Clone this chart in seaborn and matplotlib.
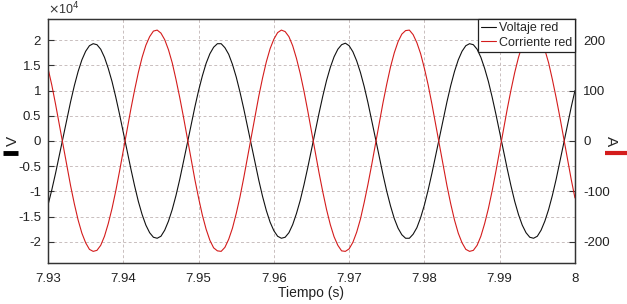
import numpy as np
import pandas as pd
import matplotlib
matplotlib.use("Agg")
import matplotlib.pyplot as plt
import seaborn as sns
from matplotlib.ticker import FuncFormatter

# Tiempo (s), sampled every 0.5 ms
tiempo = [7.930 + 0.0005 * i for i in range(141)]

# Voltaje red (x1e4 V)
voltaje = [-1.27, -0.97, -0.64, -0.29, 0.07, 0.43, 0.78, 1.10, 1.38, 1.61,
           1.78, 1.89, 1.93, 1.91, 1.82, 1.66, 1.44, 1.18, 0.87, 0.53,
           0.17, -0.19, -0.55, -0.89, -1.20, -1.46, -1.67, -1.82, -1.91, -1.93,
           -1.89, -1.77, -1.59, -1.36, -1.08, -0.76, -0.41, -0.05, 0.31, 0.67,
           1.00, 1.29, 1.54, 1.73, 1.86, 1.93, 1.93, 1.85, 1.72, 1.52,
           1.27, 0.97, 0.64, 0.29, -0.07, -0.43, -0.78, -1.10, -1.38, -1.61,
           -1.78, -1.89, -1.93, -1.91, -1.82, -1.66, -1.44, -1.18, -0.87, -0.53,
           -0.17, 0.19, 0.55, 0.89, 1.20, 1.46, 1.67, 1.82, 1.91, 1.94,
           1.89, 1.77, 1.59, 1.36, 1.08, 0.76, 0.41, 0.05, -0.31, -0.67,
           -1.00, -1.29, -1.54, -1.73, -1.86, -1.93, -1.93, -1.85, -1.72, -1.52,
           -1.27, -0.97, -0.64, -0.29, 0.07, 0.43, 0.78, 1.10, 1.38, 1.61,
           1.78, 1.89, 1.93, 1.91, 1.82, 1.66, 1.44, 1.18, 0.87, 0.53,
           0.17, -0.19, -0.55, -0.89, -1.20, -1.46, -1.67, -1.82, -1.91, -1.93,
           -1.89, -1.77, -1.59, -1.36, -1.08, -0.76, -0.41, -0.05, 0.31, 0.67,
           1.00]

# Corriente red (A)
corriente = [144, 111, 73, 33, -8, -49, -89, -125, -157, -183,
             -202, -215, -219, -217, -207, -189, -164, -134, -99, -60,
             -19, 22, 63, 101, 136, 166, 190, 207, 218, 220,
             214, 201, 181, 155, 122, 86, 47, 6, -36, -76,
             -113, -147, -175, -197, -212, -218, -219, -211, -195, -173,
             -144, -111, -73, -33, 8, 49, 89, 125, 157, 183,
             202, 215, 220, 217, 207, 189, 164, 134, 99, 60,
             19, -22, -63, -101, -136, -166, -190, -207, -218, -219,
             -214, -201, -181, -155, -122, -86, -47, -6, 36, 76,
             113, 147, 175, 197, 212, 219, 220, 211, 195, 173,
             144, 111, 73, 33, -8, -49, -89, -125, -157, -183,
             -202, -215, -219, -217, -207, -189, -164, -134, -99, -60,
             -19, 22, 63, 101, 136, 166, 190, 207, 218, 220,
             214, 201, 181, 155, 122, 86, 47, 6, -36, -76,
             -113]

x_ticks = [7.93, 7.94, 7.95, 7.96, 7.97, 7.98, 7.99, 8.0]
v_ticks = [-2, -1.5, -1, -0.5, 0, 0.5, 1, 1.5, 2]
a_ticks = [-200, -100, 0, 100, 200]

df = pd.DataFrame({"t": tiempo, "v": voltaje, "i": corriente})

sns.set_style("white")
plt.rcParams["font.family"] = ["Liberation Sans", "DejaVu Sans"]
plt.rcParams["axes.unicode_minus"] = False

red = "#d41c1c"
grid_c = "#c9bfbf"
spine_c = "#333333"

fig = plt.figure(figsize=(6.27, 3.04), dpi=100)
ax = fig.add_axes([0.0766, 0.135, 0.8404, 0.8025])
ax2 = ax.twinx()

sns.lineplot(data=df, x="t", y="v", ax=ax, color="#111111", lw=0.8, label="Voltaje red", legend=False)
sns.lineplot(data=df, x="t", y="i", ax=ax2, color=red, lw=0.8, label="Corriente red", legend=False)

ax.set_xlim(7.93, 8.0)
ax.set_ylim(-2.42, 2.42)
ax2.set_ylim(-242, 242)
ax.set_xticks(x_ticks)
ax.set_xticklabels(["%g" % t for t in x_ticks])
ax.set_yticks(v_ticks)
ax.yaxis.set_major_formatter(FuncFormatter(lambda v, p: "%g" % v))
ax2.set_yticks(a_ticks)

ax.grid(True, color=grid_c, ls=(0, (3, 2.5)), lw=0.7)
ax.set_axisbelow(True)

for a in (ax, ax2):
    a.tick_params(direction="in", length=4, width=0.8, colors=spine_c,
                  labelsize=9.5, labelcolor="#222222", pad=5)
    for s in a.spines.values():
        s.set_color(spine_c)
        s.set_linewidth(0.9)
ax.tick_params(axis="x", pad=7)
ax2.tick_params(axis="y", pad=6)

ax.set_xlabel("Tiempo (s)", fontsize=10, color="#222222", labelpad=1)
ax.set_ylabel("")
ax2.set_ylabel("")

# offset multiplier for the left axis
ax.text(0.0, 1.008, "$\\times$10$^4$", transform=ax.transAxes, fontsize=9,
        color="#333333", ha="left", va="bottom")

# axis unit labels with colour swatches
fig.text(0.021, 0.535, "V", rotation=90, fontsize=11, ha="center", va="center")
fig.add_artist(plt.Line2D([0.005, 0.029], [0.497, 0.497], transform=fig.transFigure,
                          color="black", lw=3.5, solid_capstyle="butt"))
fig.text(0.975, 0.535, "A", rotation=-90, fontsize=11, ha="center", va="center")
fig.add_artist(plt.Line2D([0.965, 1.0], [0.497, 0.497], transform=fig.transFigure,
                          color=red, lw=3, solid_capstyle="butt"))

h1, l1 = ax.get_legend_handles_labels()
h2, l2 = ax2.get_legend_handles_labels()
leg = ax2.legend(h1 + h2, l1 + l2, loc="upper right", borderaxespad=0,
                 fontsize=9, frameon=True, fancybox=False, handlelength=1.2,
                 handletextpad=0.2, borderpad=0.25, labelspacing=0.2)
leg.get_frame().set_edgecolor("#222222")
leg.get_frame().set_linewidth(0.9)
leg.get_frame().set_alpha(1)

fig.savefig("out.png", dpi=100)
